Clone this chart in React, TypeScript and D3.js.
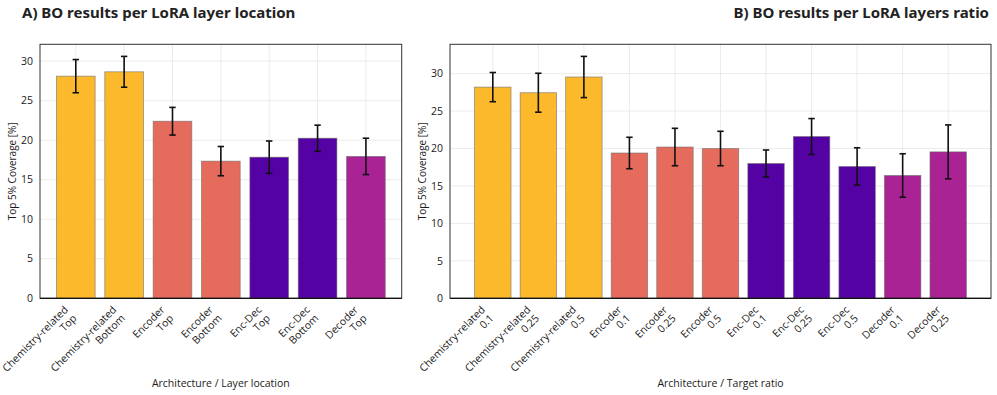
import React, { useEffect, useRef } from "react";
import * as d3 from "d3";

// panel A: layer location
const locLabels = [
  "Chemistry-related\nTop",
  "Chemistry-related\nBottom",
  "Encoder\nTop",
  "Encoder\nBottom",
  "Enc-Dec\nTop",
  "Enc-Dec\nBottom",
  "Decoder\nTop",
];
const locArch = ["chem", "chem", "enc", "enc", "encdec", "encdec", "dec"];
const locMean = [28.1, 28.65, 22.4, 17.35, 17.85, 20.25, 17.95];
const locErr = [2.1, 1.95, 1.75, 1.85, 2.05, 1.65, 2.3];

// panel B: layers ratio
const ratioLabels = [
  "Chemistry-related\n0.1",
  "Chemistry-related\n0.25",
  "Chemistry-related\n0.5",
  "Encoder\n0.1",
  "Encoder\n0.25",
  "Encoder\n0.5",
  "Enc-Dec\n0.1",
  "Enc-Dec\n0.25",
  "Enc-Dec\n0.5",
  "Decoder\n0.1",
  "Decoder\n0.25",
];
const ratioArch = ["chem", "chem", "chem", "enc", "enc", "enc", "encdec", "encdec", "encdec", "dec", "dec"];
const ratioMean = [28.2, 27.45, 29.55, 19.4, 20.2, 20.0, 18.0, 21.6, 17.6, 16.4, 19.55];
const ratioErr = [1.95, 2.6, 2.75, 2.1, 2.5, 2.3, 1.8, 2.4, 2.5, 2.9, 3.6];

const archColor: Record<string, string> = {
  chem: "#fcb92b",
  enc: "#e56b5d",
  encdec: "#5402a3",
  dec: "#a92395",
};

const yTicks = [0, 5, 10, 15, 20, 25, 30];
const FONT = "'Open Sans', 'Noto Sans', sans-serif";
const TXT = "#1a1a1a";

function drawPanel(svg: any, opts: any) {
  const { left, right, top, bottom, labels, arch, mean, err, xTitle, title, titleAnchor } = opts;
  const n = mean.length;
  // matplotlib-like auto limits: bars -0.4..n-0.6, 5% margins
  const span = n - 1 + 0.8;
  const x = d3.scaleLinear().domain([-0.4 - span * 0.05, n - 0.6 + span * 0.05]).range([left, right]);
  const ymax = d3.max(mean.map((m: number, i: number) => m + err[i])) as number;
  const y = d3.scaleLinear().domain([0, ymax * 1.05]).range([bottom, top]);
  const bw = x(0.8) - x(0);

  const g = svg.append("g");

  // grid
  g.selectAll(".gy").data(yTicks).enter().append("line")
    .attr("x1", left).attr("x2", right)
    .attr("y1", (d: number) => y(d)).attr("y2", (d: number) => y(d))
    .attr("stroke", "#e6e6e6").attr("stroke-width", 0.8);
  g.selectAll(".gx").data(d3.range(n)).enter().append("line")
    .attr("x1", (d: number) => x(d)).attr("x2", (d: number) => x(d))
    .attr("y1", top).attr("y2", bottom)
    .attr("stroke", "#e6e6e6").attr("stroke-width", 0.8);

  // bars
  g.selectAll(".bar").data(mean).enter().append("rect")
    .attr("x", (_: number, i: number) => x(i) - bw / 2)
    .attr("width", bw)
    .attr("y", (d: number) => y(d))
    .attr("height", (d: number) => bottom - y(d))
    .attr("fill", (_: number, i: number) => archColor[arch[i]])
    .attr("stroke", "rgba(110,110,110,0.7)")
    .attr("stroke-width", 0.8);

  // error bars
  const eg = g.selectAll(".err").data(mean).enter().append("g")
    .attr("stroke", "#111").attr("stroke-width", 1.6);
  eg.append("line")
    .attr("x1", (_: number, i: number) => x(i)).attr("x2", (_: number, i: number) => x(i))
    .attr("y1", (d: number, i: number) => y(d + err[i])).attr("y2", (d: number, i: number) => y(d - err[i]));
  [1, -1].forEach((s) => {
    eg.append("line")
      .attr("x1", (_: number, i: number) => x(i) - 3.2).attr("x2", (_: number, i: number) => x(i) + 3.2)
      .attr("y1", (d: number, i: number) => y(d + s * err[i])).attr("y2", (d: number, i: number) => y(d + s * err[i]));
  });

  // frame
  g.append("rect").attr("x", left).attr("y", top).attr("width", right - left).attr("height", bottom - top)
    .attr("fill", "none").attr("stroke", "#333").attr("stroke-width", 1);
  g.append("line").attr("x1", left).attr("x2", right).attr("y1", bottom).attr("y2", bottom)
    .attr("stroke", "#111").attr("stroke-width", 1.2);

  // y tick labels
  g.selectAll(".yt").data(yTicks).enter().append("text")
    .attr("x", left - 7).attr("y", (d: number) => y(d)).attr("dy", "0.35em")
    .attr("text-anchor", "end").attr("font-size", 10.5).attr("font-family", FONT).attr("fill", TXT)
    .text((d: number) => d);

  // rotated x tick labels, right-aligned lines, matplotlib ha=right / va=top
  const fs = 10.5;
  const lh = fs * 1.15;
  const c = Math.SQRT1_2;
  labels.forEach((lab: string, i: number) => {
    const lines = lab.split("\n");
    const H = lines.length * lh;
    const tg = g.append("g")
      .attr("transform", `translate(${x(i) - H * c + 3},${bottom + 5}) rotate(-45)`);
    lines.forEach((ln, k) => {
      tg.append("text").attr("x", 0).attr("y", fs * 0.95 + k * lh)
        .attr("text-anchor", "end").attr("font-size", fs).attr("font-family", FONT).attr("fill", TXT)
        .text(ln);
    });
  });

  // axis titles
  g.append("text").attr("x", (left + right) / 2).attr("y", 387)
    .attr("text-anchor", "middle").attr("font-size", 10.5).attr("font-family", FONT).attr("fill", TXT)
    .text(xTitle);
  const cy = (top + bottom) / 2;
  g.append("text").attr("transform", `translate(${left - 24},${cy}) rotate(-90)`)
    .attr("text-anchor", "middle").attr("font-size", 10).attr("font-family", FONT).attr("fill", TXT)
    .text("Top 5% Coverage [%]");

  // panel title
  g.append("text")
    .attr("x", titleAnchor === "start" ? 22 : right - 2).attr("y", 18)
    .attr("text-anchor", titleAnchor).attr("font-size", 15).attr("font-weight", 700)
    .attr("font-family", "'Noto Sans', sans-serif").attr("fill", "#222")
    .text(title);
}

export default function App() {
  const ref = useRef<SVGSVGElement>(null);
  useEffect(() => {
    const svg = d3.select(ref.current);
    svg.selectAll("*").remove();
    svg.append("rect").attr("width", 997).attr("height", 395).attr("fill", "#fff");
    drawPanel(svg, {
      left: 40, right: 401.7, top: 44.3, bottom: 298.3,
      labels: locLabels, arch: locArch, mean: locMean, err: locErr,
      xTitle: "Architecture / Layer location",
      title: "A) BO results per LoRA layer location", titleAnchor: "start",
    });
    drawPanel(svg, {
      left: 450, right: 991, top: 44.3, bottom: 298.3,
      labels: ratioLabels, arch: ratioArch, mean: ratioMean, err: ratioErr,
      xTitle: "Architecture / Target ratio",
      title: "B) BO results per LoRA layers ratio", titleAnchor: "end",
    });
  }, []);
  return (
    <svg ref={ref} width={997} height={395}
      style={{ position: "absolute", left: 0, top: 0, display: "block" }} />
  );
}
